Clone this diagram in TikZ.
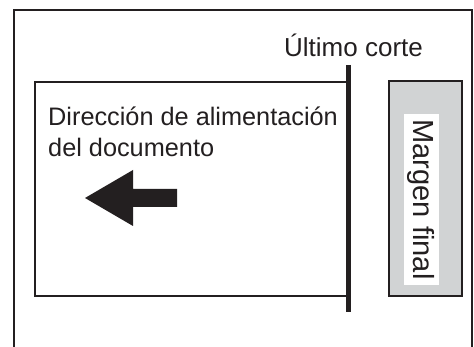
\documentclass[tikz,border=0pt]{standalone}
\usepackage{fontspec}
\setmainfont{Liberation Sans}
\usetikzlibrary{positioning}
\definecolor{ink}{HTML}{231F20}
\definecolor{margengris}{HTML}{D1D3D4}
\begin{document}
\begin{tikzpicture}[
        x=1pt, y=-1pt,
        every node/.style={inner sep=0pt, text=ink},
        caja/.style={draw=ink, line width=2pt},
        texto/.style={font=\fontsize{25.3}{30}\selectfont, anchor=base west},
        corte/.style={draw=ink, line width=5pt},
    ]
    \useasboundingbox (0,0) rectangle (474,347);
    \draw[ink, line width=2pt] (14,347) -- (14,10) -- (472,10) -- (472,347);
    \node[caja, minimum width=313pt, minimum height=214pt](doc) at (191.5,189){};
    \coordinate (c1) at (348,65);
    \coordinate (c2) at (348,312);
    \draw[corte] (c1) -- (c2);
    \node[caja, fill=margengris, minimum width=73pt, minimum height=215pt](margen) at (425.5,188.5){};
    \node[fill=white, rotate=-90, minimum width=171pt, minimum height=35pt,
        font=\fontsize{29.1}{34}\selectfont](final) at (421.5,199.5){Margen final};
    \node[texto, font=\fontsize{26}{30}\selectfont](ultimo) at (284,57){Último corte};
    \node[texto](dir1) at (48,126){Dirección de alimentación};
    \node[texto](dir2) at ([yshift=-31pt]dir1.base west){del documento};
    \fill[ink] (85,198) -- (133,170) -- (133,189) -- (177,189) -- (177,207)
        -- (133,207) -- (133,226) -- cycle;
\end{tikzpicture}
\end{document}
